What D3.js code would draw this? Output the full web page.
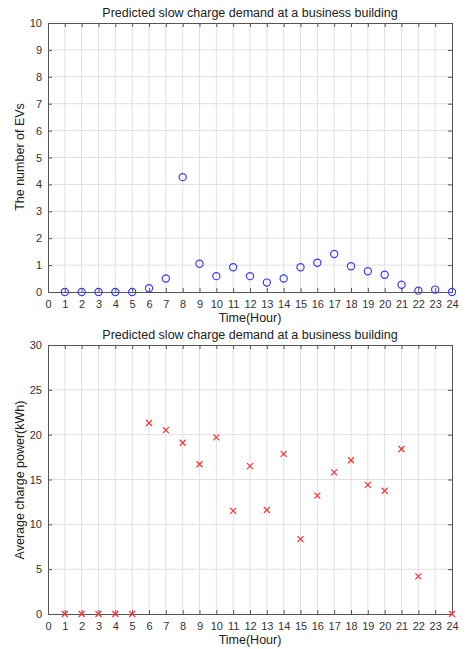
<!DOCTYPE html>
<html><head><meta charset="utf-8">
<script src="https://cdn.jsdelivr.net/npm/d3@7"></script>
<style>body{margin:0;background:#fff;}svg{display:block;font-family:"Liberation Sans",Arial,sans-serif;}</style>
</head><body>
<svg id="c" width="472" height="649"></svg>
<script>
const hours = d3.range(1, 25);
const evCount = [0,0,0,0,0,0.14,0.5,4.27,1.05,0.59,0.92,0.59,0.35,0.5,0.92,1.09,1.41,0.96,0.77,0.64,0.27,0.05,0.09,0];
const powerHours = [1,2,3,4,5,6,7,8,9,10,11,12,13,14,15,16,17,18,19,20,21,22,24];
const avgPower = [0,0,0,0,0,21.3,20.5,19.1,16.7,19.7,11.5,16.5,11.6,17.85,8.35,13.2,15.8,17.15,14.4,13.75,18.4,4.2,0];
const xTicks = d3.range(0, 25);
const yTicksTop = d3.range(0, 11);
const yTicksBottom = [0,5,10,15,20,25,30];
const title = "Predicted slow charge demand at a business building";

const svg = d3.select("#c");
const x = d3.scaleLinear().domain([0,24]).range([48,452]);

function panel(yDomain, yRange, yTicks, yLabel, labelY) {
  const y = d3.scaleLinear().domain(yDomain).range(yRange);
  const g = svg.append("g");
  g.selectAll(".vg").data(xTicks.slice(1,-1)).join("line")
    .attr("x1", d=>x(d)).attr("x2", d=>x(d)).attr("y1", yRange[0]).attr("y2", yRange[1])
    .attr("stroke", "#e0e0e0").attr("stroke-width", 1);
  g.selectAll(".hg").data(yTicks.slice(1,-1)).join("line")
    .attr("x1", x(0)).attr("x2", x(24)).attr("y1", d=>y(d)).attr("y2", d=>y(d))
    .attr("stroke", "#e0e0e0").attr("stroke-width", 1);
  const ax = d3.axisBottom(x).tickValues(xTicks).tickSize(-4).tickPadding(8).tickFormat(d3.format("d"));
  const ay = d3.axisLeft(y).tickValues(yTicks).tickSize(-4).tickPadding(6).tickFormat(d3.format("d"));
  const axT = d3.axisTop(x).tickValues(xTicks).tickSize(-4).tickFormat("");
  const ayR = d3.axisRight(y).tickValues(yTicks).tickSize(-4).tickFormat("");
  const gx = g.append("g").attr("transform", `translate(0,${yRange[0]})`).call(ax);
  const gy = g.append("g").attr("transform", `translate(${x(0)},0)`).call(ay);
  const gt = g.append("g").attr("transform", `translate(0,${yRange[1]})`).call(axT);
  const gr = g.append("g").attr("transform", `translate(${x(24)},0)`).call(ayR);
  [gx,gy,gt,gr].forEach(a => {
    a.select(".domain").attr("stroke", "#555").attr("stroke-width", 1);
    a.selectAll(".tick line").attr("stroke", "#555");
    a.selectAll("text").attr("fill", "#333").style("font-size", "11px").style("font-family", '"Liberation Sans",Arial,sans-serif');
  });
  svg.append("text").attr("x", 250).attr("y", yRange[1] - 6).attr("text-anchor", "middle")
    .style("font-size", "12.5px").attr("fill", "#222").text(title);
  svg.append("text").attr("x", 250).attr("y", yRange[0] + 30).attr("text-anchor", "middle")
    .style("font-size", "12.5px").attr("fill", "#222").text("Time(Hour)");
  svg.append("text").attr("transform", `translate(24,${labelY}) rotate(-90)`).attr("text-anchor", "middle")
    .style("font-size", "12.5px").attr("fill", "#222").text(yLabel);
  return {g, y};
}

const p1 = panel([0,10], [292,23], yTicksTop, "The number of EVs", 157);
p1.g.selectAll(".pt").data(hours).join("circle")
  .attr("cx", d=>x(d)).attr("cy", (d,i)=>p1.y(evCount[i])).attr("r", 3.6)
  .attr("fill", "none").attr("stroke", "#3a3aff").attr("stroke-width", 1.2);

const p2 = panel([0,30], [614,345], yTicksBottom, "Average charge power(kWh)", 480);
const s = 3;
p2.g.selectAll(".xm").data(powerHours).join("path")
  .attr("d", (d,i)=>{const cx=x(d), cy=p2.y(avgPower[i]); return `M${cx-s},${cy-s}L${cx+s},${cy+s}M${cx-s},${cy+s}L${cx+s},${cy-s}`;})
  .attr("stroke", "#ff3030").attr("stroke-width", 1.2).attr("fill", "none");
</script>
</body></html>
